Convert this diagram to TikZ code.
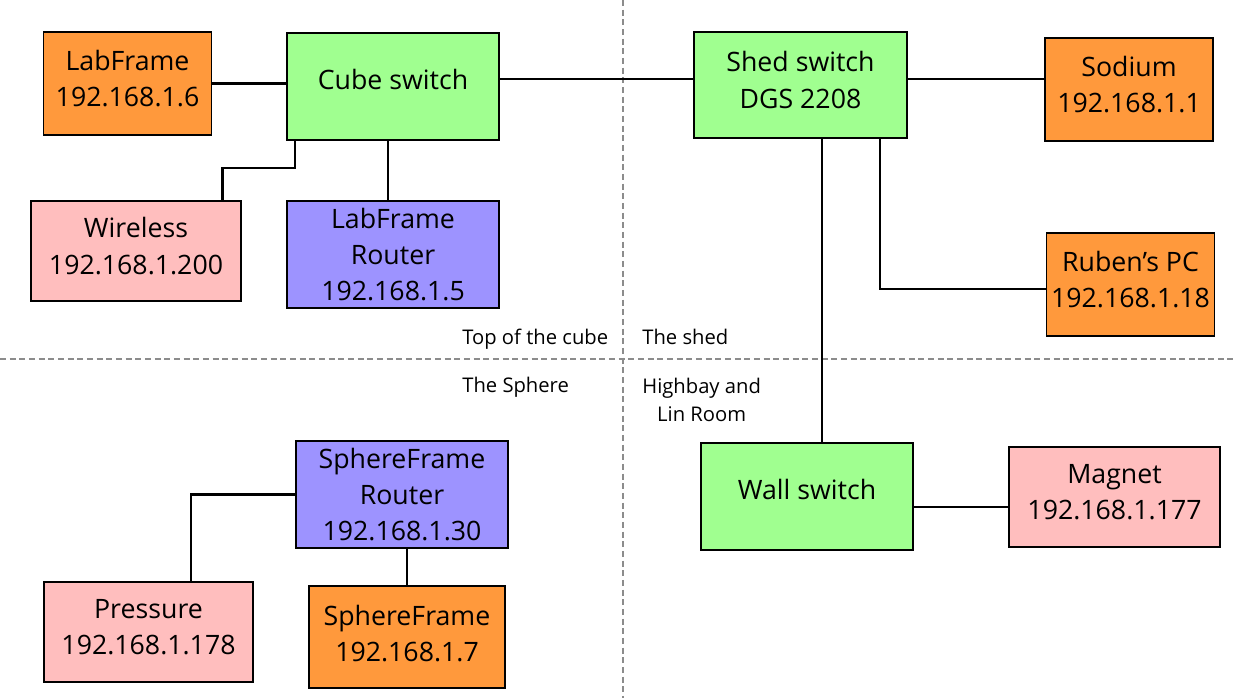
\documentclass[tikz,border=0pt]{standalone}
\usepackage{fontspec}
\setmainfont{Open Sans}

\definecolor{devorange}{RGB}{255,153,60}
\definecolor{devgreen}{RGB}{160,255,144}
\definecolor{devpink}{RGB}{255,190,190}
\definecolor{devpurple}{RGB}{157,147,255}

\begin{document}
\begin{tikzpicture}[
    devbox/.style={rectangle, draw, line width=0.9pt, align=center, inner sep=0pt, font=\fontsize{15.2}{20.7}\selectfont},
    wire/.style={line width=1.3pt},
    zoneline/.style={black!45, line width=0.6pt, dash pattern=on 3.5pt off 2pt},
    zonelabel/.style={inner sep=0pt, align=center, font=\fontsize{11.5}{15.9}\selectfont}
  ]
    \useasboundingbox (0, 0) rectangle (24.66, -13.96);

    % 区画の破線
    \draw[zoneline] (12.46, 0) -- (12.46, -13.96);
    \draw[zoneline] (0, -7.18) -- (24.66, -7.18);

    \node[zonelabel, anchor=base west] (top_label) at (9.24, -6.88) {Top of the cube};
    \node[zonelabel, anchor=base west] (shed_label) at (12.84, -6.88) {The shed};
    \node[zonelabel, anchor=base west] (sphere_label) at (9.24, -7.85) {The Sphere};
    \node[zonelabel, anchor=north west] (highbay_label) at (12.84, -7.56) {Highbay and\\Lin Room};

    % 機器
    \node[devbox, fill=devorange, minimum width=3.36cm, minimum height=2.06cm, text depth=0.2cm] (lab_frame) at (2.55, -1.67) {LabFrame\\192.168.1.6};
    \node[devbox, fill=devgreen, minimum width=4.24cm, minimum height=2.14cm, text depth=0.28cm] (cube) at (7.86, -1.73) {Cube switch};
    \node[devbox, fill=devpink, minimum width=4.20cm, minimum height=2.00cm, text depth=0.2cm] (wireless) at (2.72, -5.02) {Wireless\\192.168.1.200};
    \node[devbox, fill=devpurple, minimum width=4.24cm, minimum height=2.14cm] (lab_router) at (7.86, -5.09) {LabFrame\\Router\\192.168.1.5};
    \node[devbox, fill=devgreen, minimum width=4.26cm, minimum height=2.12cm, text depth=0.2cm] (shed) at (16.01, -1.70) {Shed switch\\DGS 2208};
    \node[devbox, fill=devorange, minimum width=3.36cm, minimum height=2.06cm, text depth=0.2cm] (sodium) at (22.58, -1.79) {Sodium\\192.168.1.1};
    \node[devbox, fill=devorange, minimum width=3.36cm, minimum height=2.06cm, text depth=0.2cm] (ruben) at (22.61, -5.69) {Ruben’s PC\\192.168.1.18};
    \node[devbox, fill=devgreen, minimum width=4.24cm, minimum height=2.14cm, text depth=0.28cm] (wall) at (16.14, -9.93) {Wall switch};
    \node[devbox, fill=devpink, minimum width=4.22cm, minimum height=2.00cm, text depth=0.2cm] (magnet) at (22.29, -9.94) {Magnet\\192.168.1.177};
    \node[devbox, fill=devpurple, minimum width=4.23cm, minimum height=2.14cm] (sphere_router) at (8.04, -9.89) {SphereFrame\\Router\\192.168.1.30};
    \node[devbox, fill=devpink, minimum width=4.19cm, minimum height=2.00cm, text depth=0.2cm] (pressure) at (2.97, -12.64) {Pressure\\192.168.1.178};
    \node[devbox, fill=devorange, minimum width=3.92cm, minimum height=2.04cm, text depth=0.15cm] (sphere_frame) at (8.14, -12.74) {SphereFrame\\192.168.1.7};

    % 配線
    \draw[wire] (lab_frame.east) -- (lab_frame.east -| cube.west);
    \draw[wire] ([yshift=0.15cm]cube.east) -- ([yshift=0.15cm]cube.east -| shed.west);
    \draw[wire] ([yshift=0.12cm]shed.east) -- ([yshift=0.12cm]shed.east -| sodium.west);
    \draw[wire] ([xshift=0.17cm]cube.south west) -- ++(0, -0.54) -| ([xshift=1.73cm]wireless.north);
    \draw[wire] ([xshift=-0.1cm]cube.south) -- ([xshift=-0.1cm]cube.south |- lab_router.north);
    \draw[wire] ([xshift=0.43cm]shed.south) -- ([xshift=0.43cm]shed.south |- wall.north);
    \draw[wire] ([xshift=1.59cm]shed.south) |- ([yshift=-0.09cm]ruben.west);
    \draw[wire] ([yshift=-0.21cm]wall.east) -- ([yshift=-0.21cm]wall.east -| magnet.west);
    \draw[wire] (sphere_router.west) -| ([xshift=0.85cm]pressure.north);
    \draw[wire] (sphere_frame.north) -- (sphere_frame.north |- sphere_router.south);

  \end{tikzpicture}
\end{document}
